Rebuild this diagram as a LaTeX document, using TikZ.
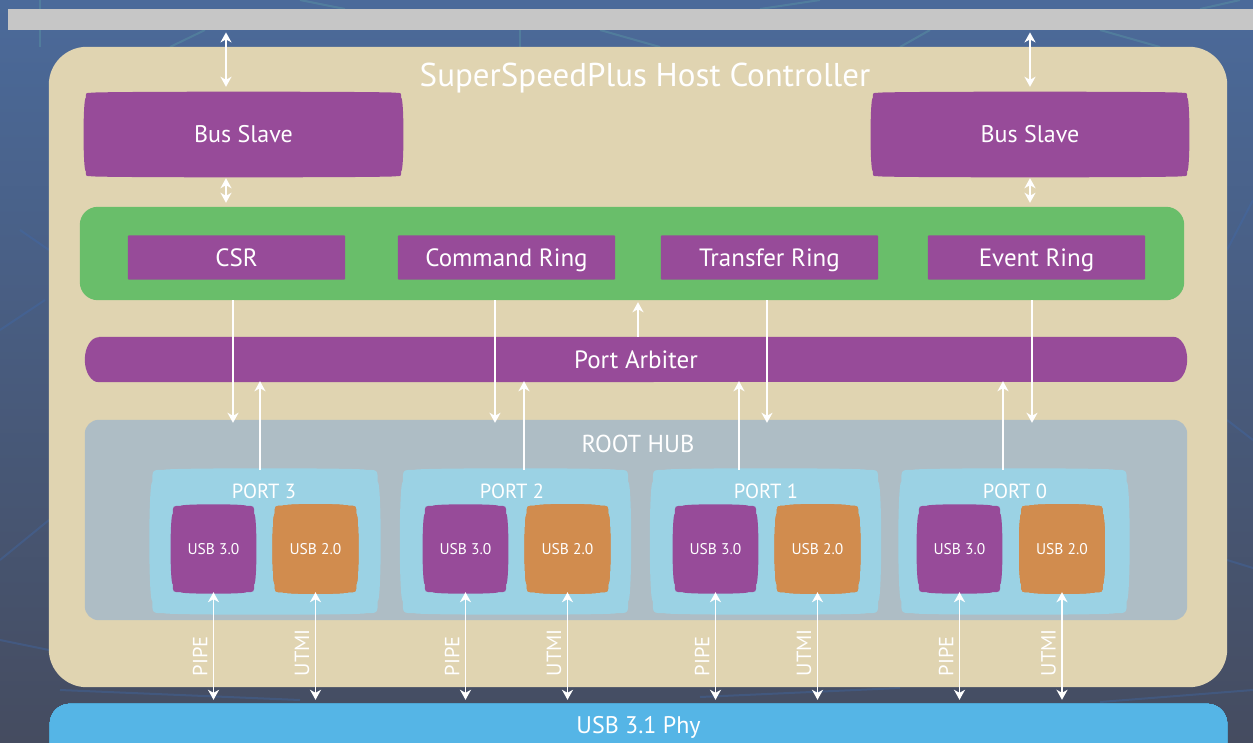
\documentclass[tikz,border=0pt]{standalone}
\usepackage{fontspec}
\setmainfont{PT Sans}
\usetikzlibrary{arrows.meta,calc}
\pgfdeclarelayer{background}
\pgfsetlayers{background,main}

\definecolor{bgtop}{HTML}{4B6A9A}
\definecolor{bgmid}{HTML}{4A5878}
\definecolor{bgbot}{HTML}{454C60}
\definecolor{traceteal}{HTML}{5FA3A8}
\definecolor{traceblue}{HTML}{3F6BB0}
\definecolor{hosttan}{HTML}{E0D4B1}
\definecolor{plum}{HTML}{974B99}
\definecolor{leaf}{HTML}{69BE6A}
\definecolor{hubgray}{HTML}{AEBDC5}
\definecolor{portblue}{HTML}{9BD2E4}
\definecolor{amber}{HTML}{D18C4E}
\definecolor{phyblue}{HTML}{55B5E6}
\definecolor{busgray}{HTML}{C6C6C6}

\newcommand\setfs[1]{\fontsize{#1pt}{#1pt}\selectfont}

% filled "pillow" outline round a node: slightly bowed edges, rounded corners
% #1 node, #2 colour, #3 corner radius, #4 side bulge, #5 top/bottom bulge
\newcommand\pillowfill[5]{%
  \fill[#2] let \p1=(#1.north west), \p2=(#1.south east) in
    (\x1+#3,\y1) .. controls (\x1+#3,\y1+#5) and (\x2-#3,\y1+#5) .. (\x2-#3,\y1)
    .. controls (\x2,\y1) .. (\x2,\y1-#3)
    .. controls (\x2+#4,\y1-#3) and (\x2+#4,\y2+#3) .. (\x2,\y2+#3)
    .. controls (\x2,\y2) .. (\x2-#3,\y2)
    .. controls (\x2-#3,\y2-#5) and (\x1+#3,\y2-#5) .. (\x1+#3,\y2)
    .. controls (\x1,\y2) .. (\x1,\y2+#3)
    .. controls (\x1-#4,\y2+#3) and (\x1-#4,\y1-#3) .. (\x1,\y1-#3)
    .. controls (\x1,\y1) .. (\x1+#3,\y1) -- cycle;}

\tikzset{
  % capitals centred on the node centre, whatever the descenders
  caps/.style={font=\setfs{#1}, text height={0.69*#1pt}, text depth=0pt},
  box/.style={inner sep=0pt, text=white, align=center},
  usbbox/.style={box, caps=15.5, minimum width=81pt, minimum height=86pt},
  portbox/.style={box, minimum width=225pt, minimum height=143pt},
  portname/.style={box, caps=20.5},
  ringbox/.style={box, caps=25, minimum width=217pt, minimum height=44pt},
  link/.style={draw=white, line width=1.6pt, ->},
  dlink/.style={draw=white, line width=1.6pt, <->},
  ifname/.style={text=white, font=\setfs{20.5}, rotate=90, anchor=south west,
                 inner xsep=0pt, inner ysep=6pt},
  trace/.style={line width=2pt, opacity=0.35},
  >={Stealth[length=10pt,width=11pt,inset=3pt]},
}

\begin{document}
\begin{tikzpicture}[x=1pt,y=-1pt]
\useasboundingbox (0,0) rectangle (1253,742);
\clip (0,0) rectangle (1253,742);

% ---------- nodes ----------
\node[box, minimum width=1245pt, minimum height=21pt, anchor=north west] (sysbus) at (8,9) {};
\node[box, minimum width=1178pt, minimum height=640pt] (host) at (638,367) {};
\node[box, caps=33] (title) at (645,75) {SuperSpeedPlus Host Controller};

\node[box, caps=24, minimum width=315pt, minimum height=83pt] (bsl) at (243.5,134.5) {Bus Slave};
\node[box, caps=24, minimum width=314pt, minimum height=83pt] (bsr) at (1030,134.5) {Bus Slave};

\node[box, minimum width=1104pt, minimum height=93pt] (ring) at (632,253.5) {};
\node[ringbox] (csr) at (236.5,257.5) {CSR};
\node[ringbox] (cmd) at (506.5,257.5) {Command Ring};
\node[ringbox] (trf) at (769.5,257.5) {Transfer Ring};
\node[ringbox] (evt) at (1036.5,257.5) {Event Ring};

\node[box, caps=25, minimum width=1102pt, minimum height=45pt] (arb) at (636,359.5) {Port Arbiter};

\node[box, minimum width=1102pt, minimum height=200pt] (hub) at (636,520) {};
\node[box, caps=24.5] (hubname) at (638,444) {ROOT HUB};

\node[portbox] (p3) at (265,541.5) {};
\node[portbox] (p2) at (515.5,541.5) {};
\node[portbox] (p1) at (765.5,541.5) {};
\node[portbox] (p0) at (1014,541.5) {};
\node[portname] (p3name) at (264,491) {PORT 3};
\node[portname] (p2name) at (512,491) {PORT 2};
\node[portname] (p1name) at (766,491) {PORT 1};
\node[portname] (p0name) at (1015,491) {PORT 0};

\node[usbbox] (s3) at (213.5,549) {USB 3.0};
\node[usbbox] (h3) at (315.5,549) {USB 2.0};
\node[usbbox] (s2) at (465.5,549) {USB 3.0};
\node[usbbox] (h2) at (567.5,549) {USB 2.0};
\node[usbbox] (s1) at (715.5,549) {USB 3.0};
\node[usbbox] (h1) at (817.5,549) {USB 2.0};
\node[usbbox] (s0) at (959.5,549) {USB 3.0};
\node[usbbox] (h0) at (1062,549) {USB 2.0};

\node[box, caps=24, minimum width=1177pt, minimum height=42pt] (phy) at (638.5,725) {USB 3.1 Phy};

% ---------- fills ----------
\begin{pgfonlayer}{background}
  \fill[top color=bgtop, middle color=bgmid, bottom color=bgbot] (0,0) rectangle (1253,742);
  % faint circuit traces in the backdrop
  \draw[trace, traceteal] (40,47) -- (40,0);
  \draw[trace, traceteal] (170,47) -- (205,30);
  \draw[trace, traceteal] (300,0) -- (345,9);
  \draw[trace, traceteal] (520,47) -- (520,30);
  \draw[trace, traceteal] (600,30) -- (660,47);
  \draw[trace, traceteal] (760,9) -- (820,0);
  \draw[trace, traceteal] (900,47) -- (930,30);
  \draw[trace, traceteal] (1100,30) -- (1160,47);
  \draw[trace, traceteal] (1200,9) -- (1240,0);
  \draw[trace, traceblue] (0,330) -- (45,300);
  \draw[trace, traceblue] (20,230) -- (49,250);
  \draw[trace, traceblue] (0,560) -- (49,520);
  \draw[trace, traceblue] (0,640) -- (49,650);
  \draw[trace, traceblue] (1227,250) -- (1253,200);
  \draw[trace, traceblue] (1227,560) -- (1253,568);
  \draw[trace, traceblue] (1227,420) -- (1253,440);
  \draw[trace, traceblue] (60,690) -- (300,700);
  \draw[trace, traceblue] (700,697) -- (900,688);
  \draw[trace, traceblue] (1100,702) -- (1253,690);

  \fill[busgray] (sysbus.north west) rectangle (sysbus.south east);
  \fill[hosttan, rounded corners=38pt] (host.north west) rectangle (host.south east);
  \pillowfill{bsl}{plum}{5pt}{3pt}{1.5pt}
  \pillowfill{bsr}{plum}{5pt}{3pt}{1.5pt}
  \fill[leaf, rounded corners=18pt] (ring.north west) rectangle (ring.south east);
  \foreach \rb in {csr,cmd,trf,evt}
    \fill[plum, rounded corners=1pt] (\rb.north west) rectangle (\rb.south east);
  \fill[plum] let \p1=(arb.north west), \p2=(arb.south east) in
    (\x1+14pt,\y1) -- (\x2-14pt,\y1)
    arc[start angle=90, end angle=-90, x radius=14pt, y radius=22.5pt]
    -- (\x1+14pt,\y2)
    arc[start angle=270, end angle=90, x radius=14pt, y radius=22.5pt] -- cycle;
  \fill[hubgray, rounded corners=14pt] (hub.north west) rectangle (hub.south east);
  \pillowfill{p3}{portblue}{12pt}{4pt}{2pt}
  \pillowfill{p2}{portblue}{12pt}{4pt}{2pt}
  \pillowfill{p1}{portblue}{12pt}{4pt}{2pt}
  \pillowfill{p0}{portblue}{12pt}{4pt}{2pt}
  \foreach \sb in {s3,s2,s1,s0}
    \pillowfill{\sb}{plum}{8pt}{3pt}{2pt}
  \foreach \hb in {h3,h2,h1,h0}
    \pillowfill{\hb}{amber}{8pt}{3pt}{2pt}
  \fill[phyblue, rounded corners=20pt] (phy.north west) rectangle ([yshift=-40pt]phy.south east);
\end{pgfonlayer}

% ---------- connectors ----------
\coordinate (xl) at (226,0);
\coordinate (xr) at (1030,0);
\coordinate (xm) at (638,0);
\coordinate (da) at (233,0);
\coordinate (db) at (495,0);
\coordinate (dc) at (767,0);
\coordinate (dd) at (1032,0);
\coordinate (ua) at (260,0);
\coordinate (ub) at (524,0);
\coordinate (uc) at (739,0);
\coordinate (ud) at (1003,0);

% system bus <-> bus slaves <-> ring block
\draw[dlink, shorten <=2pt, shorten >=6pt] (sysbus.south -| xl) -- (bsl.north -| xl);
\draw[dlink, shorten <=2pt, shorten >=6pt] (sysbus.south -| xr) -- (bsr.north -| xr);
\draw[dlink, shorten <=2pt, shorten >=4pt] (bsl.south -| xl) -- (ring.north -| xl);
\draw[dlink, shorten <=2pt, shorten >=4pt] (bsr.south -| xr) -- (ring.north -| xr);

% port arbiter -> ring block
\draw[link, shorten >=2pt] (arb.north -| xm) -- (ring.south -| xm);

% ring block -> root hub
\foreach \c in {da,db,dc,dd}
  \draw[link, shorten >=-3pt] (ring.south -| \c) -- (hub.north -| \c);

% ports -> port arbiter
\draw[link, shorten >=-1pt] (p3.north -| ua) -- (arb.south -| ua);
\draw[link, shorten >=-1pt] (p2.north -| ub) -- (arb.south -| ub);
\draw[link, shorten >=-1pt] (p1.north -| uc) -- (arb.south -| uc);
\draw[link, shorten >=-1pt] (p0.north -| ud) -- (arb.south -| ud);

% port controllers <-> PHY
\foreach \u/\t in {s3/PIPE,h3/UTMI,s2/PIPE,h2/UTMI,s1/PIPE,h1/UTMI,s0/PIPE,h0/UTMI}{
  \draw[dlink, shorten >=4pt] (\u.south) -- (\u.south |- phy.north);
  \node[ifname] (\u-if) at ($(\u.south |- host.south)+(0,-11)$) {\t};
}
\end{tikzpicture}
\end{document}
